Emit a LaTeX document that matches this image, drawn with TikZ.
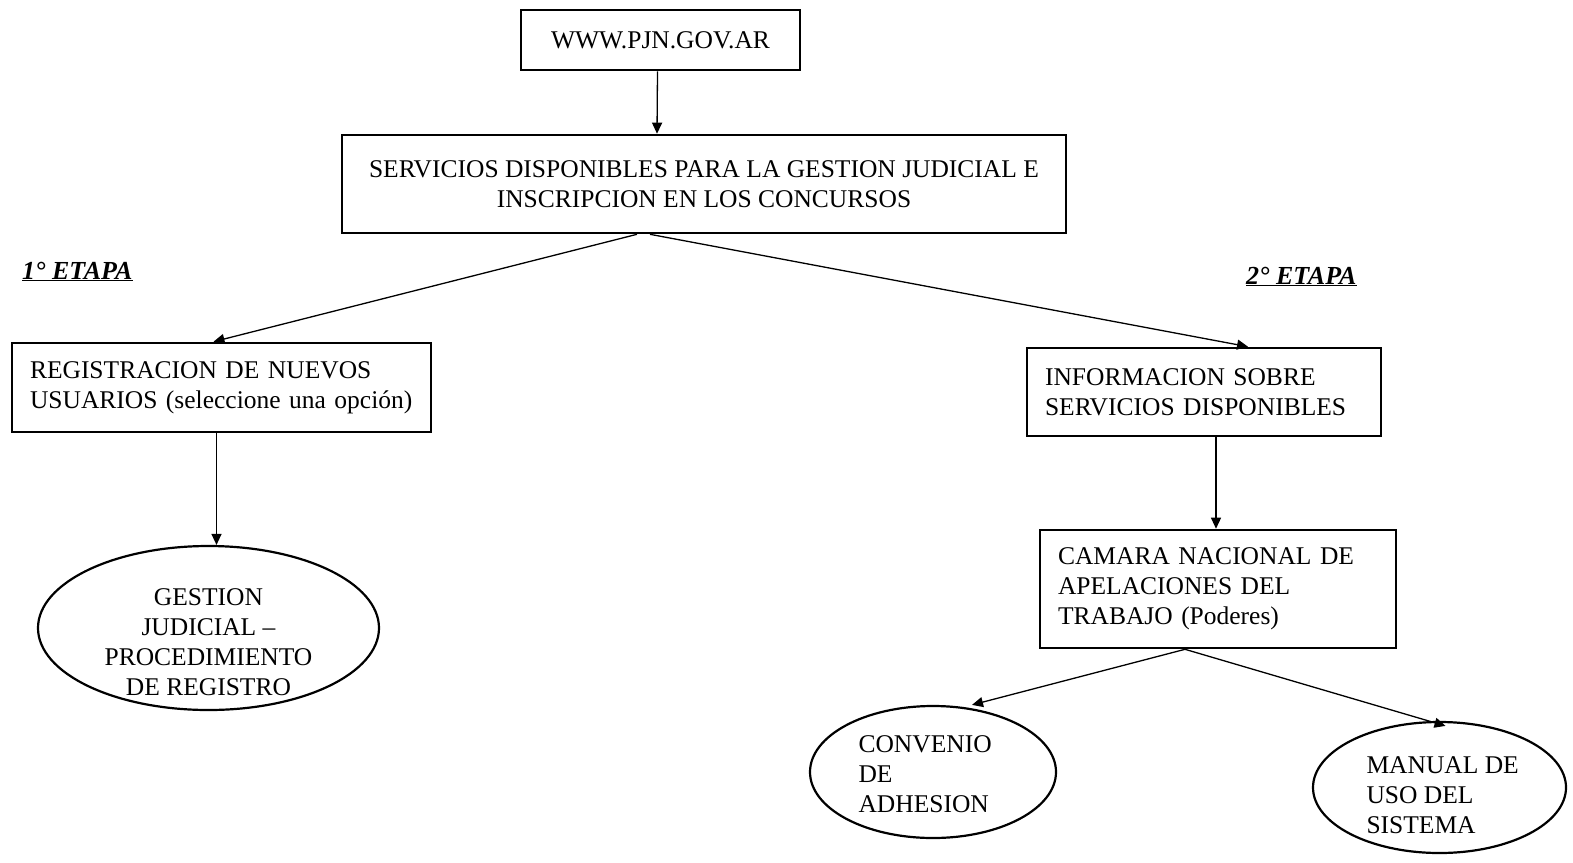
\documentclass[tikz,border=0pt]{standalone}
\usepackage{fontspec}
\setmainfont{Liberation Serif}
\usetikzlibrary{arrows.meta,shapes.geometric,calc}
\begin{document}
\begin{tikzpicture}[x=1pt,y=-1pt,
  txt/.style={font=\fontsize{25.5}{30}\selectfont},
  box/.style={draw,line width=2.6pt,rectangle,inner sep=0pt,txt},
  oval/.style={draw,line width=2.2pt,ellipse,inner sep=0pt,txt},
  arr/.style={line width=1.3pt,-{Triangle[length=11pt,width=10pt]}},
  etapa/.style={font=\fontsize{26}{30}\selectfont\bfseries\itshape}
]
\useasboundingbox (0,0) rectangle (1573,862);
\node[box,minimum width=279pt,minimum height=60pt] (web) at (660.5,40) {WWW.PJN.GOV.AR};
\node[box,minimum width=724pt,minimum height=98pt,align=center] (serv) at (704,184)
  {SERVICIOS DISPONIBLES PARA LA GESTION JUDICIAL E\\INSCRIPCION EN LOS CONCURSOS};
\node[etapa,anchor=base west,inner sep=0pt] (e1) at (22,279) {\underline{1° ETAPA}};
\node[etapa,anchor=base west,inner sep=0pt] (e2) at (1246,284) {\underline{2° ETAPA}};
\node[box,minimum width=419pt,minimum height=89pt,align=left,text width=383pt] (reg) at (221.5,387.5)
  {REGISTRACION DE NUEVOS\\USUARIOS (seleccione una opción)};
\node[box,minimum width=354pt,minimum height=88pt,align=left,text width=318pt] (info) at (1204,392)
  {INFORMACION SOBRE\\SERVICIOS DISPONIBLES};
\node[oval,minimum width=341pt,minimum height=164pt] (gest) at (208.5,628) {};
\node[txt,align=center] (gestt) at (208.5,642) {GESTION\\JUDICIAL –\\PROCEDIMIENTO\\DE REGISTRO};
\node[box,minimum width=356pt,minimum height=118pt,align=left,text width=320pt] (cam) at (1218,589)
  {CAMARA NACIONAL DE\\APELACIONES DEL\\TRABAJO (Poderes)};
\node[oval,minimum width=246pt,minimum height=132pt] (conv) at (933,772) {};
\node[txt,align=left,anchor=west] (convt) at (855,774) {CONVENIO\\DE\\ADHESION};
\node[oval,minimum width=253pt,minimum height=131pt] (man) at (1439.5,787.5) {};
\node[txt,align=left,anchor=west] (mant) at (1363,795) {MANUAL DE\\USO DEL\\SISTEMA};
\draw[arr] ([xshift=-3pt]web.south) -- ([xshift=-47pt]serv.north);
\draw[arr] ([xshift=-67pt]serv.south) -- ([xshift=-8pt]reg.north);
\draw[arr] ([xshift=-54pt]serv.south) -- ([xshift=44pt]info.north);
\draw[arr] ([xshift=-5pt]reg.south) -- ([xshift=8pt]gest.north);
\draw[arr] ([xshift=12pt]info.south) -- ([xshift=-2pt]cam.north);
\draw[arr] ([xshift=-33pt]cam.south) -- ([xshift=39pt]conv.north);
\draw[arr] ([xshift=-33pt]cam.south) -- ([xshift=6pt,yshift=-5pt]man.north);
\end{tikzpicture}
\end{document}
